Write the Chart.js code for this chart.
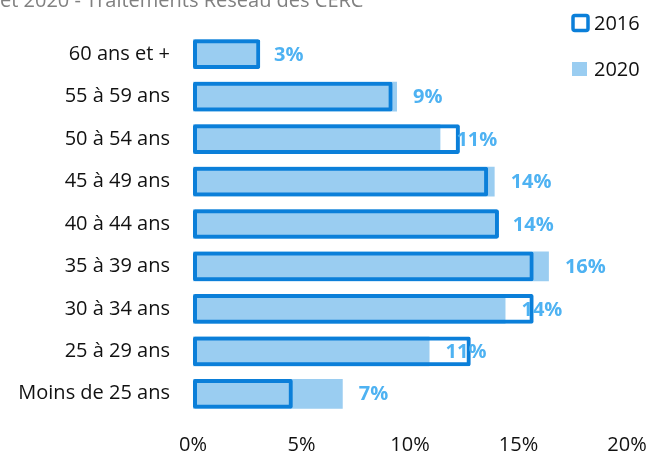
<!DOCTYPE html>
<html>
<head>
<meta charset="utf-8">
<script src="https://cdn.jsdelivr.net/npm/chart.js@4"></script>
<style>
  html, body { margin: 0; padding: 0; background: #fff; overflow: hidden; }
  #wrap { position: absolute; left: 0; top: -11px; width: 651px; height: 465px; }
</style>
</head>
<body>
<div id="wrap"><canvas id="age-chart"></canvas></div>
<script>
const AGE_GROUPS = ['60 ans et +', '55 à 59 ans', '50 à 54 ans', '45 à 49 ans', '40 à 44 ans',
                    '35 à 39 ans', '30 à 34 ans', '25 à 29 ans', 'Moins de 25 ans'];
const SHARE_2016 = [3.1, 9.2, 12.3, 13.6, 14.1, 15.7, 15.7, 12.8, 4.6];
const SHARE_2020 = [3.0, 9.4, 11.4, 13.9, 14.0, 16.4, 14.4, 10.9, 6.9];
const X_TICKS = [0, 5, 10, 15, 20];
const TITLE = 'et 2020 - Traitements Réseau des CERC';

const DARK_BLUE = '#0b7fd9';
const LIGHT_BLUE = '#9acdf1';
const LABEL_BLUE = '#4eb2f2';
const FONT = '"Open Sans", sans-serif';

// value labels at the end of the 2020 bars
const valueLabels = {
    id: 'valueLabels',
    afterDatasetsDraw(chart) {
        const meta = chart.getDatasetMeta(1);
        const ctx = chart.ctx;
        ctx.save();
        ctx.font = 'bold 20px ' + FONT;
        ctx.fillStyle = LABEL_BLUE;
        ctx.textAlign = 'left';
        ctx.textBaseline = 'middle';
        meta.data.forEach((bar, i) => {
            ctx.fillText(Math.round(SHARE_2020[i]) + '%', bar.x + 16, bar.y + 1);
        });
        ctx.restore();
    }
};

// vertical legend in the top right corner
const cornerLegend = {
    id: 'cornerLegend',
    afterDraw(chart) {
        const ctx = chart.ctx;
        ctx.save();
        ctx.font = '20px ' + FONT;
        ctx.textBaseline = 'middle';
        chart.data.datasets.forEach((ds, i) => {
            const cy = 34 + i * 46;
            if (i === 0) {
                ctx.lineWidth = 3.5;
                ctx.strokeStyle = ds.borderColor;
                ctx.fillStyle = '#fff';
                ctx.beginPath();
                ctx.roundRect(573, cy - 7.5, 15, 15, 2);
                ctx.fill();
                ctx.stroke();
            } else {
                ctx.fillStyle = ds.backgroundColor;
                ctx.fillRect(572, cy - 7, 15, 14);
            }
            ctx.fillStyle = '#111';
            ctx.fillText(ds.label, 594, cy + 1);
        });
        ctx.restore();
    }
};

new Chart(document.getElementById('age-chart').getContext('2d'), {
    type: 'bar',
    data: {
        labels: AGE_GROUPS,
        datasets: [{
            label: '2016',
            data: SHARE_2016,
            backgroundColor: 'rgba(0,0,0,0)',
            borderColor: DARK_BLUE,
            borderWidth: 4,
            borderSkipped: false,
            borderRadius: 2,
            grouped: false,
            barPercentage: 0.7,
            categoryPercentage: 1
        }, {
            label: '2020',
            data: SHARE_2020,
            backgroundColor: LIGHT_BLUE,
            borderWidth: 0,
            grouped: false,
            barPercentage: 0.7,
            categoryPercentage: 1
        }]
    },
    options: {
        indexAxis: 'y',
        responsive: true,
        maintainAspectRatio: false,
        animation: false,
        layout: { padding: 0 },
        scales: {
            x: {
                min: 0,
                max: 20,
                afterBuildTicks: (scale) => { scale.ticks = X_TICKS.map(v => ({ value: v })); },
                afterFit: (scale) => {
                    scale.height = 39;
                    scale.paddingLeft = 0;
                    scale.paddingRight = 24;
                },
                grid: { display: false, drawTicks: false },
                border: { display: false },
                ticks: {
                    padding: 18,
                    color: '#111',
                    font: { family: FONT, size: 20 },
                    callback: (v) => v + '%'
                }
            },
            y: {
                afterFit: (scale) => { scale.width = 193; },
                grid: { display: false, drawTicks: false },
                border: { display: false },
                ticks: {
                    padding: 23,
                    color: '#111',
                    font: { family: FONT, size: 20 }
                }
            }
        },
        plugins: {
            legend: { display: false },
            tooltip: { enabled: false },
            title: {
                display: true,
                text: TITLE,
                align: 'start',
                color: '#808080',
                font: { family: FONT, size: 20, weight: 'normal' },
                padding: { top: 0, bottom: 20 }
            }
        }
    },
    plugins: [valueLabels, cornerLegend]
});
</script>
</body>
</html>
